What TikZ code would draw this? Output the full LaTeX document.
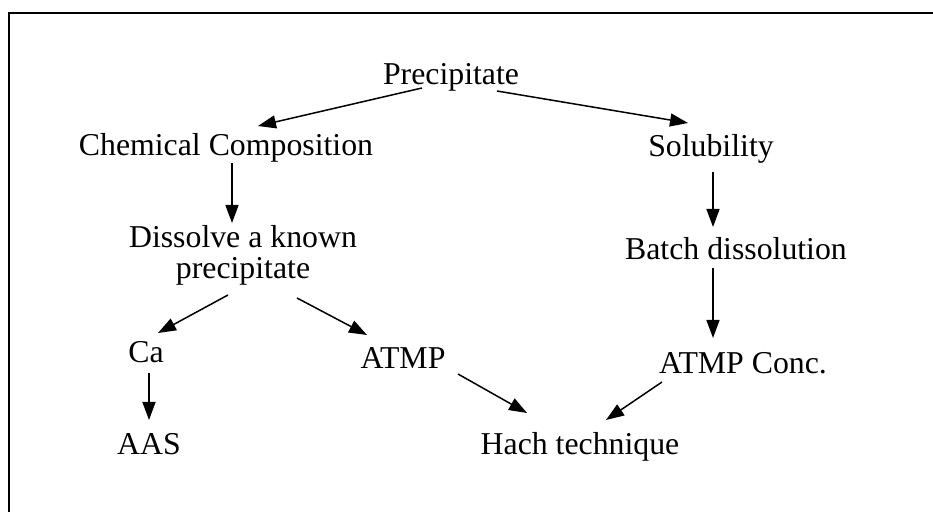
\documentclass[tikz,border=0pt]{standalone}
\usepackage{fontspec}
\setmainfont{Liberation Serif}
\usetikzlibrary{arrows.meta,calc}

\tikzset{
  lbl/.style={anchor=base, inner sep=0pt, align=center,
    font=\fontsize{15.9pt}{15.5pt}\selectfont},
  arr/.style={line width=0.75pt, -{Triangle[length=9pt,width=6.5pt]}}
}

\begin{document}
\begin{tikzpicture}[x=0.5pt,y=-0.5pt]

\useasboundingbox (0,0) rectangle (933,512);
\draw[line width=1pt] (9,512) -- (9,13) -- (933,13);

\node[lbl] (precip) at (451,85) {Precipitate};
\node[lbl] (chem) at (226,156) {Chemical Composition};
\node[lbl] (solub) at (711,157) {Solubility};

\node[lbl] (dissolve) at (243,279) {Dissolve a known\\ precipitate};
\node[lbl] (batch) at (736,260) {Batch dissolution};

\node[lbl] (ca) at (146,363) {Ca};
\node[lbl] (atmp) at (403,369) {ATMP};
\node[lbl] (conc) at (743,374) {ATMP Conc.};

\node[lbl] (aas) at (149,455) {AAS};
\node[lbl] (hach) at (580,455) {Hach technique};


\draw [arr] ($(precip.base)+(-29,3)$) -- ($(chem.base)+(32,-30)$);   % top, left
\draw [arr] ($(precip.base)+(46,6)$) -- ($(solub.base)+(-23,-34)$);  % top, right

\draw [arr] ($(chem.base)+(6,7)$) -- ($(dissolve.base)+(-11,-56)$);
\draw [arr] ($(solub.base)+(2,15)$) -- ($(batch.base)+(-23,-33)$);
\draw [arr] ($(batch.base)+(-23,8)$) -- ($(conc.base)+(-30,-36)$);

\draw [arr] ($(dissolve.base)+(-15,16)$) -- ($(ca.base)+(12,-30)$);   % split
\draw [arr] ($(dissolve.base)+(54,19)$) -- ($(atmp.base)+(-36,-34)$);
\draw [arr] ($(ca.base)+(3,10)$) -- ($(aas.base)+(0,-35)$);

\draw [arr] ($(atmp.base)+(55,5)$) -- ($(hach.base)+(-53,-42)$);     % into Hach
\draw [arr] ($(conc.base)+(-81,8)$) -- ($(hach.base)+(26,-35)$);

\end{tikzpicture}
\end{document}
